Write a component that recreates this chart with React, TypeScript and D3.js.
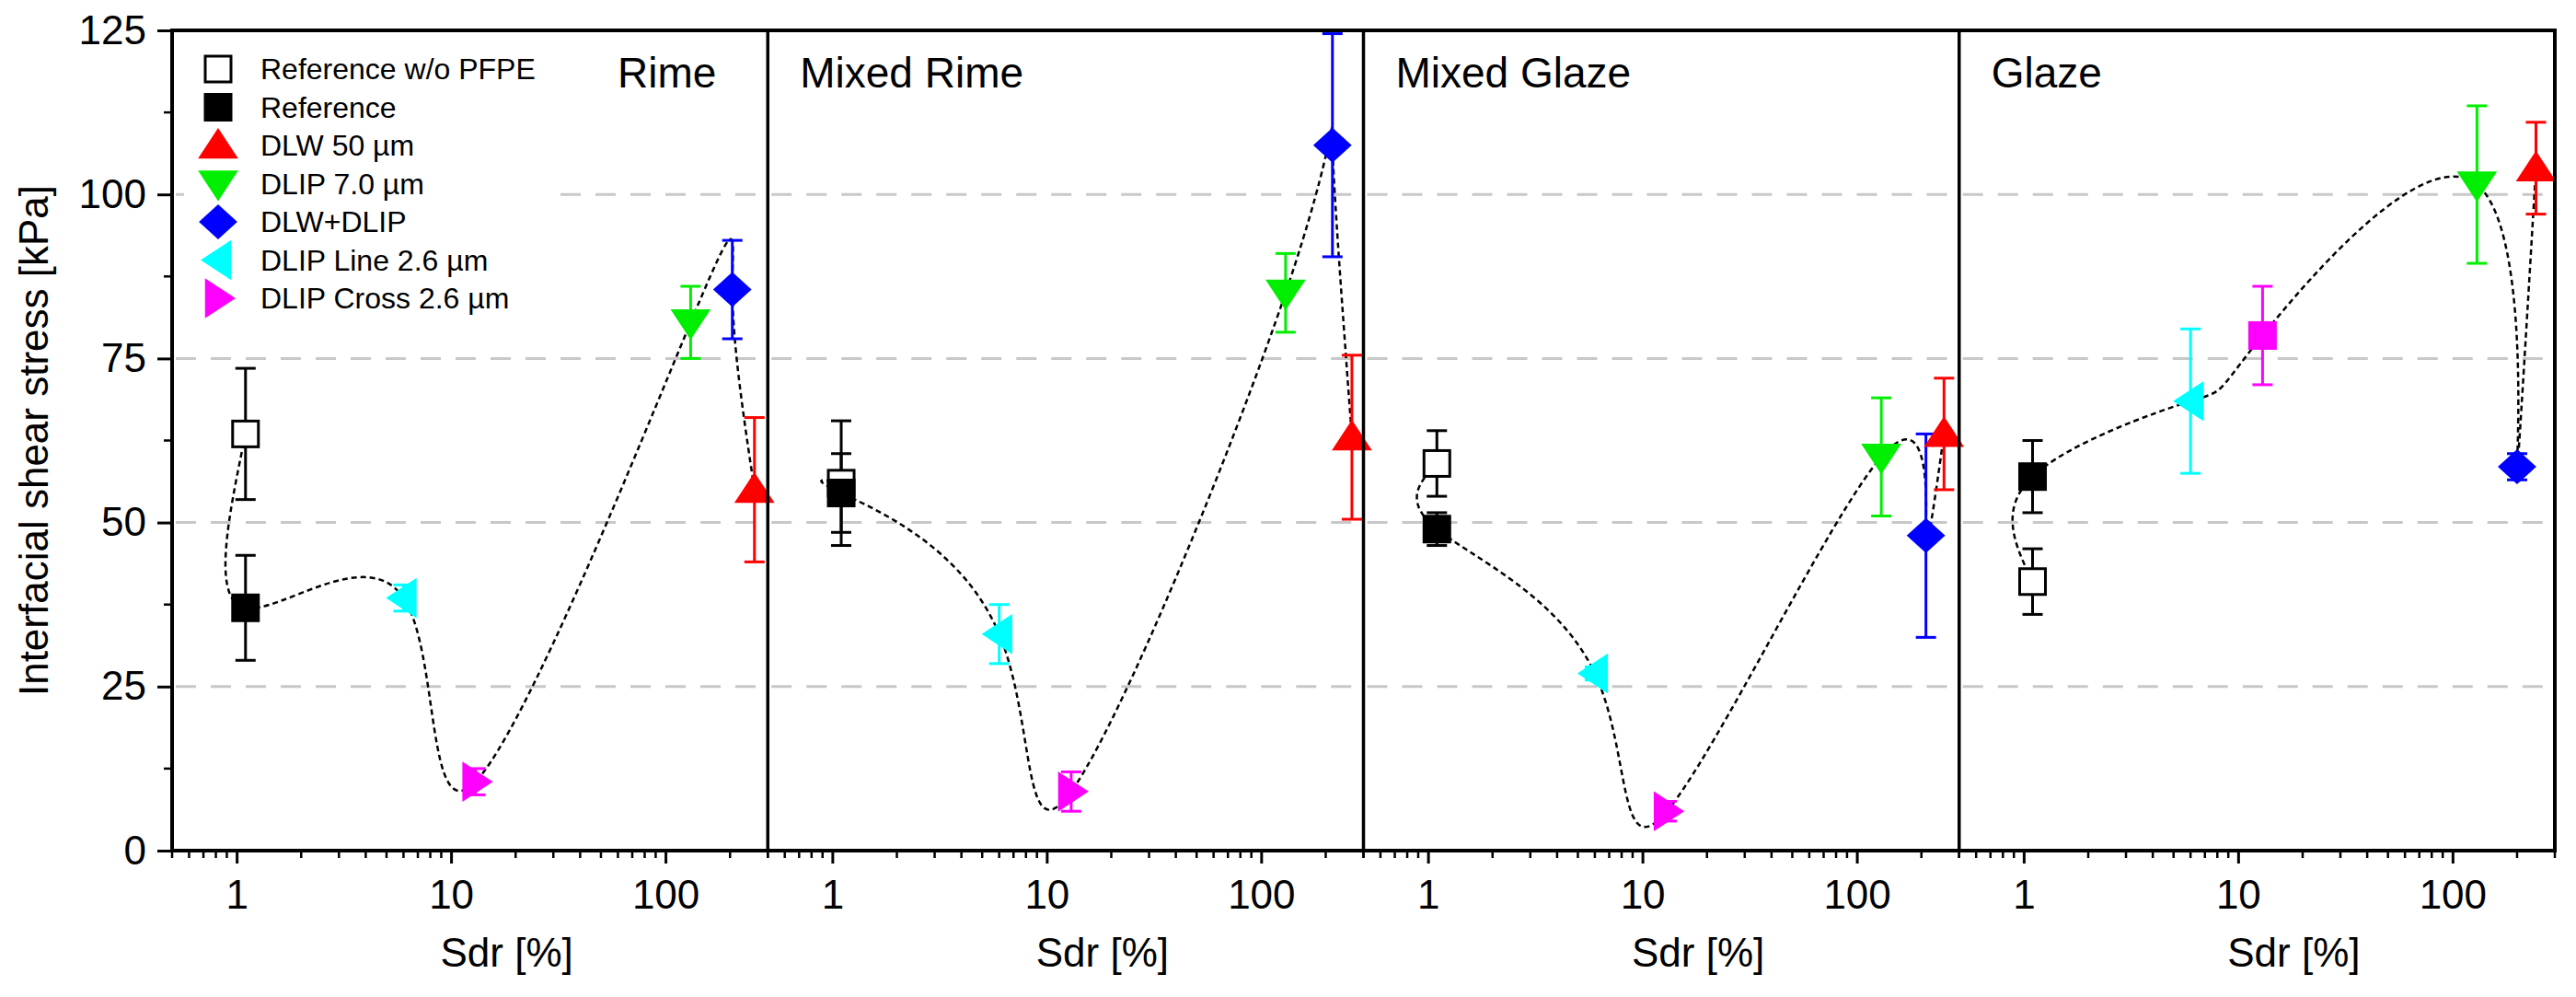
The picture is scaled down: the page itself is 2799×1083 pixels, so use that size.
import React, { useEffect, useRef } from "react";
import * as d3 from "d3";

const panels = ["Rime", "Mixed Rime", "Mixed Glaze", "Glaze"];
const series = ["Reference w/o PFPE", "Reference", "DLW 50 µm", "DLIP 7.0 µm", "DLW+DLIP", "DLIP Line 2.6 µm", "DLIP Cross 2.6 µm"];
const colors = ["#000", "#000", "#ff0000", "#00ee00", "#0000ff", "#00ffff", "#ff00ff"];
const shapes = ["squareOpen", "square", "up", "down", "diamond", "left", "right"];
// per panel: x (Sdr), y, err, in series order
const sdr = [
  [1.1, 1.1, 260, 131, 205, 6, 13],
  [1.1, 1.1, 265, 130, 215, 6, 13],
  [1.1, 1.1, 255, 130, 210, 6, 13],
  [1.1, 1.1, 245, 130, 200, 6, 13],
];
const stress = [
  [63.5, 37, 55, 80.5, 85.5, 38.5, 10.5],
  [56, 54.5, 63, 85, 107.5, 33, 9],
  [59, 49, 63.5, 60, 48, 27, 6],
  [41, 57, 104, 101.5, 58.5, 68.5, 78.5],
];
const errs = [
  [10, 8, 11, 5.5, 7.5, 2, 2],
  [9.5, 6, 12.5, 6, 17, 4.5, 3],
  [5, 2.5, 8.5, 9, 15.5, 1, 1.5],
  [5, 5.5, 7, 12, 2, 11, 7.5],
];
// order of the fitted dashed curve through the series
const curveOrder = [
  [0, 1, 5, 6, 3, 4, 2],
  [0, 1, 5, 6, 3, 4, 2],
  [0, 1, 5, 6, 3, 4, 2],
  [0, 1, 5, 6, 3, 4, 2],
];
const yTicks = [0, 25, 50, 75, 100, 125];
const xTicks = [1, 10, 100];

function marker(g: any, shape: string, x: number, y: number, c: string) {
  const s = 19;
  if (shape === "square" || shape === "squareOpen") {
    g.append("rect").attr("x", x - 14).attr("y", y - 14).attr("width", 28).attr("height", 28)
      .attr("fill", shape === "square" ? c : "#fff").attr("stroke", c).attr("stroke-width", 3);
    return;
  }
  let pts: number[][] = [];
  if (shape === "up") pts = [[x, y - s], [x + s * 1.15, y + s * 0.75], [x - s * 1.15, y + s * 0.75]];
  if (shape === "down") pts = [[x, y + s], [x + s * 1.15, y - s * 0.75], [x - s * 1.15, y - s * 0.75]];
  if (shape === "left") pts = [[x - s, y], [x + s * 0.75, y - s * 1.15], [x + s * 0.75, y + s * 1.15]];
  if (shape === "right") pts = [[x + s, y], [x - s * 0.75, y - s * 1.15], [x - s * 0.75, y + s * 1.15]];
  if (shape === "diamond") pts = [[x, y - s], [x + s * 1.1, y], [x, y + s], [x - s * 1.1, y]];
  g.append("polygon").attr("points", pts.map((p) => p.join(",")).join(" ")).attr("fill", c);
}

export default function App() {
  const ref = useRef<SVGSVGElement | null>(null);
  useEffect(() => {
    const W = 2799, H = 1083;
    const left = 187, top = 33, bottom = 924, pw = 647.25;
    const font = "'Liberation Sans', Arial, sans-serif";
    const svg = d3.select(ref.current).attr("width", W).attr("height", H);
    svg.selectAll("*").remove();
    svg.append("rect").attr("width", W).attr("height", H).attr("fill", "#fff");
    const y = d3.scaleLinear().domain([0, 125]).range([bottom, top]);

    panels.forEach((name, p) => {
      const x0 = left + p * pw;
      const x = d3.scaleLog().domain([0.5, 300]).range([x0, x0 + pw]);
      const g = svg.append("g");
      // grid
      [25, 50, 75, 100].forEach((v) => {
        g.append("line").attr("x1", x0 + 4).attr("x2", x0 + pw - 4).attr("y1", y(v)).attr("y2", y(v))
          .attr("stroke", "#c8c8c8").attr("stroke-width", 3).attr("stroke-dasharray", "22,16");
      });
      if (p === 0) {
        // legend background hides the grid behind it
        g.append("rect").attr("x", 200).attr("y", 45).attr("width", 398).attr("height", 300).attr("fill", "#fff");
      }
      // x axis
      const ax = g.append("g").attr("transform", `translate(0,${bottom})`)
        .call(d3.axisBottom(x).tickValues(xTicks).tickFormat(d3.format("d")).tickSize(14).tickPadding(18));
      const minors = x.ticks().filter((t) => !xTicks.includes(t));
      ax.selectAll(".minor").data(minors).join("line").attr("class", "minor")
        .attr("x1", (d) => x(d)).attr("x2", (d) => x(d)).attr("y2", 8).attr("stroke", "#000").attr("stroke-width", 2.5);
      ax.select(".domain").remove();
      ax.selectAll(".tick line").attr("stroke-width", 3);
      ax.selectAll("text").attr("font-size", 44).attr("font-family", font);
      g.append("text").attr("x", x0 + pw * 0.5 + 40).attr("y", 1050).attr("text-anchor", "middle")
        .attr("font-size", 44).attr("font-family", font).text("Sdr [%]");
      // curve
      const pts = curveOrder[p].map((i) => [x(sdr[p][i]), y(stress[p][i])] as [number, number]);
      g.append("path").attr("d", d3.line().curve(d3.curveNatural)(pts))
        .attr("fill", "none").attr("stroke", "#000").attr("stroke-width", 2.5).attr("stroke-dasharray", "6,4");
      // error bars and markers
      series.forEach((_, i) => {
        const cx = x(sdr[p][i]), v = stress[p][i], e = errs[p][i];
        const c = colors[i];
        g.append("line").attr("x1", cx).attr("x2", cx).attr("y1", y(v - e)).attr("y2", y(v + e)).attr("stroke", c).attr("stroke-width", 3);
        [v - e, v + e].forEach((t) => g.append("line").attr("x1", cx - 11).attr("x2", cx + 11).attr("y1", y(t)).attr("y2", y(t)).attr("stroke", c).attr("stroke-width", 3));
      });
      series.forEach((_, i) => marker(g, p === 3 && i === 6 ? "square" : shapes[i], x(sdr[p][i]), y(stress[p][i]), colors[i]));
      // title
      g.append("text").attr("x", p === 0 ? x0 + 484 : x0 + 35).attr("y", 95).attr("font-size", 46)
        .attr("font-family", font).text(name);
      if (p > 0) g.append("line").attr("x1", x0).attr("x2", x0).attr("y1", top).attr("y2", bottom).attr("stroke", "#000").attr("stroke-width", 3.5);
    });

    // legend
    const lg = svg.append("g");
    series.forEach((s, i) => {
      const ly = 75 + i * 41.5;
      marker(lg, shapes[i], 237, ly, colors[i]);
      lg.append("text").attr("x", 283).attr("y", ly + 11).attr("font-size", 32).attr("font-family", font).text(s);
    });

    // frame
    svg.append("rect").attr("x", left).attr("y", top).attr("width", pw * 4).attr("height", bottom - top)
      .attr("fill", "none").attr("stroke", "#000").attr("stroke-width", 4);
    // y axis
    const ay = svg.append("g").attr("transform", `translate(${left},0)`)
      .call(d3.axisLeft(y).tickValues(yTicks).tickSize(16).tickPadding(12));
    ay.select(".domain").remove();
    ay.selectAll(".tick line").attr("stroke-width", 3);
    ay.selectAll("text").attr("font-size", 44).attr("font-family", font);
    ay.selectAll(".minor").data([12.5, 37.5, 62.5, 87.5, 112.5]).join("line").attr("class", "minor")
      .attr("x2", -9).attr("y1", (d) => y(d)).attr("y2", (d) => y(d)).attr("stroke", "#000").attr("stroke-width", 2.5);
    svg.append("text").attr("transform", `translate(52,${(top + bottom) / 2}) rotate(-90)`).attr("text-anchor", "middle")
      .attr("font-size", 44).attr("font-family", font).text("Interfacial shear stress [kPa]");
  }, []);
  return <svg ref={ref} style={{ position: "absolute", left: 0, top: 0 }} />;
}
